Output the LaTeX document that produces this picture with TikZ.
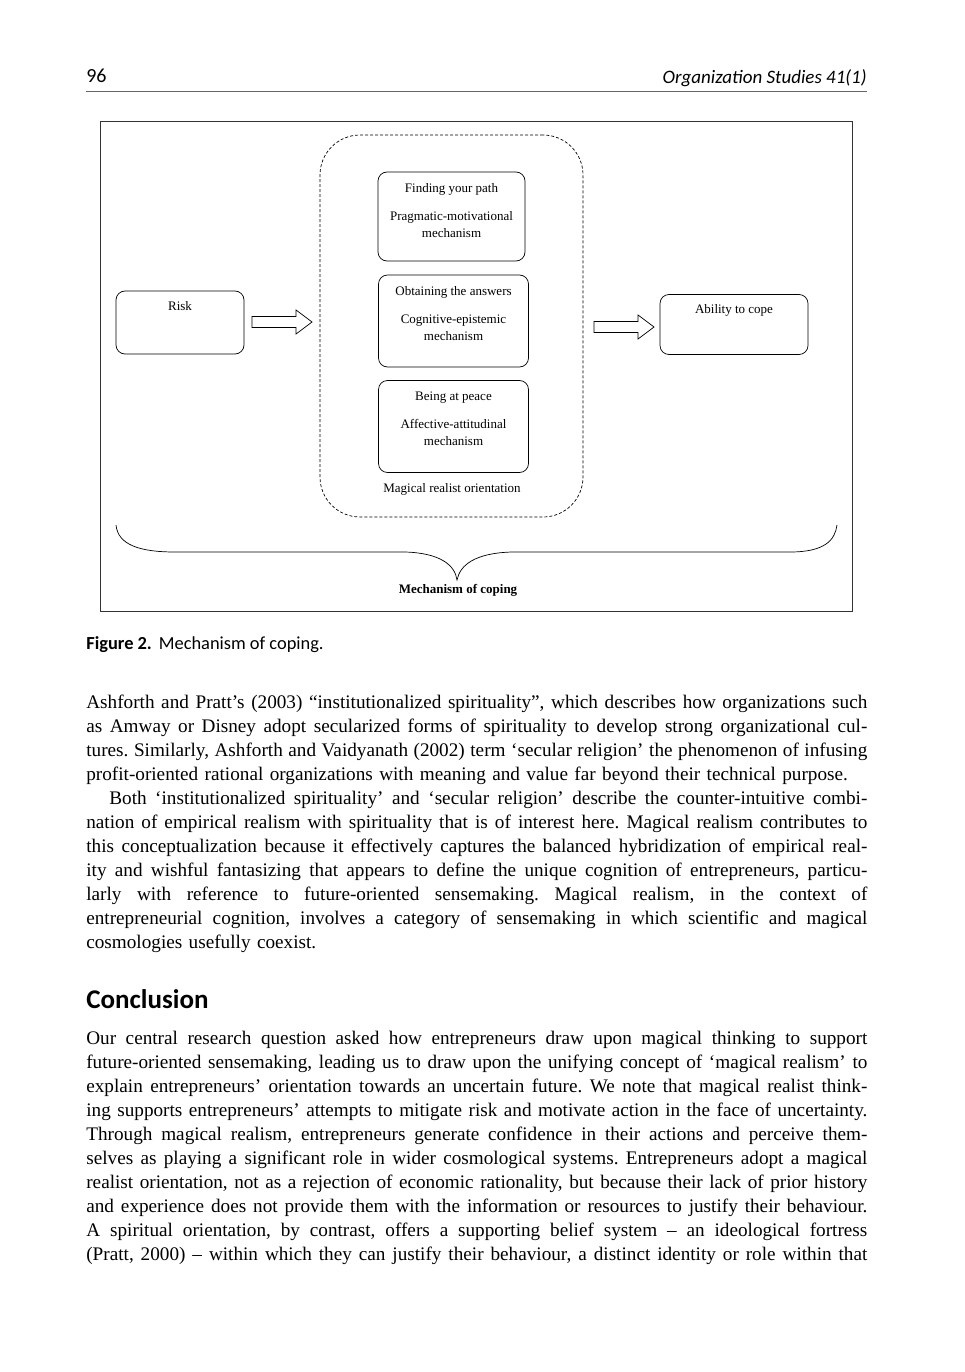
\documentclass[tikz,border=0pt]{standalone}
\usepackage{fontspec}
\setmainfont{Liberation Serif}
\newfontfamily\gill{Carlito}
\usetikzlibrary{positioning}
\frenchspacing

\newcommand\jl[1]{\makebox[781pt][s]{\spaceskip=0pt\xspaceskip=0pt #1}\\}

\begin{document}
\begin{tikzpicture}[x=1pt, y=-1pt, line width=0.7pt,
    mbox/.style={draw, rounded corners=9pt, minimum width=150pt, minimum height=91pt},
    btext/.style={align=center, inner sep=0pt, font=\fontsize{13}{17}\selectfont},
    bodytext/.style={anchor=north west, align=left, inner sep=0pt, text width=781pt,
                     font=\fontsize{19.2}{24}\selectfont}]

  \fill[white] (0, 0) rectangle (964, 1372);
  \useasboundingbox (0, 0) rectangle (964, 1372);

  % running head
  \node[anchor=base west, inner sep=0pt, font=\gill\fontsize{20}{24}\selectfont] (folio) at (86, 83) {96};
  \node[anchor=base east, inner sep=0pt, font=\gill\itshape\fontsize{19}{24}\selectfont] (journal) at (867, 84) {Organization Studies 41(1)};
  \draw[black!60, line width=0.8pt] (86, 91) -- (867, 91);

  % figure
  \draw[black!80, line width=1pt] (100, 122) rectangle (852, 611);
  \node[draw, dash pattern=on 3pt off 2pt, rounded corners=40pt, minimum width=263pt, minimum height=382pt] (orient) at (451.5, 326) {};
  \node[btext] (orienttext) at (452, 489) {Magical realist orientation};

  \node[mbox, minimum width=147pt, minimum height=89pt] (path) at (451.5, 216.5) {};
  \node[btext, below=11pt of path.north] (pathtext) {Finding your path\\[11pt] Pragmatic-motivational\\ mechanism};
  \node[mbox, minimum height=92pt] (answers) at (453.5, 321) {};
  \node[btext, below=11pt of answers.north] (answerstext) {Obtaining the answers\\[11pt] Cognitive-epistemic\\ mechanism};
  \node[mbox, minimum height=92pt] (peace) at (453.5, 426.5) {};
  \node[btext, below=11pt of peace.north] (peacetext) {Being at peace\\[11pt] Affective-attitudinal\\ mechanism};

  \node[mbox, minimum width=128pt, minimum height=63pt] (risk) at (180, 322.5) {};
  \node[btext, below=10pt of risk.north] (risktext) {Risk};
  \node[mbox, minimum width=148pt, minimum height=60pt] (cope) at (734, 324.5) {};
  \node[btext, below=10pt of cope.north] (copetext) {Ability to cope};

  % block arrows
  \foreach \x/\y [count=\n] in {252/322, 594/327} {
    \begin{scope}[shift={(\x, \y)}]
      \draw (0, -5.5) -- (44, -5.5) -- (44, -12) -- (60, 0) -- (44, 12) -- (44, 5.5) -- (0, 5.5) -- cycle;
    \end{scope}
  }

  % brace
  \draw (116, 525) .. controls (118, 545) and (140, 552) .. (175, 552) -- (405, 552)
        .. controls (440, 553) and (455, 565) .. (457, 580)
        .. controls (460, 565) and (475, 553) .. (512, 552) -- (790, 552)
        .. controls (825, 552) and (835, 540) .. (837, 525);
  \node[btext, font=\bfseries\fontsize{13}{17}\selectfont] (coping) at (458, 590) {Mechanism of coping};

  \node[anchor=base west, inner sep=0pt, font=\gill\fontsize{18.4}{20}\selectfont] (caption) at (86, 649)
    {\textbf{Figure 2.}\hspace{7pt}Mechanism of coping.};

  % body text
  \node[bodytext] (para1) at (86, 695) {%
    \jl{Ashforth and Pratt’s (2003) “institutionalized spirituality”, which describes how organizations such}
    \jl{as Amway or Disney adopt secularized forms of spirituality to develop strong organizational cul-}
    \jl{tures. Similarly, Ashforth and Vaidyanath (2002) term ‘secular religion’ the phenomenon of infusing}
    profit-oriented rational organizations with meaning and value far beyond their technical purpose.};

  \node[bodytext] (para2) at (86, 791) {%
    \hspace*{23pt}\makebox[758pt][s]{\spaceskip=0pt\xspaceskip=0pt Both ‘institutionalized spirituality’ and ‘secular religion’ describe the counter-intuitive combi-}\\
    \jl{nation of empirical realism with spirituality that is of interest here. Magical realism contributes to}
    \jl{this conceptualization because it effectively captures the balanced hybridization of empirical real-}
    \jl{ity and wishful fantasizing that appears to define the unique cognition of entrepreneurs, particu-}
    \jl{larly with reference to future-oriented sensemaking. Magical realism, in the context of}
    \jl{entrepreneurial cognition, involves a category of sensemaking in which scientific and magical}
    cosmologies usefully coexist.};

  \node[anchor=base west, inner sep=0pt, font=\gill\bfseries\fontsize{27}{30}\selectfont] (conclusion) at (86, 1008) {Conclusion};

  \node[bodytext] (para3) at (86, 1031) {%
    \jl{Our central research question asked how entrepreneurs draw upon magical thinking to support}
    \jl{future-oriented sensemaking, leading us to draw upon the unifying concept of ‘magical realism’ to}
    \jl{explain entrepreneurs’ orientation towards an uncertain future. We note that magical realist think-}
    \jl{ing supports entrepreneurs’ attempts to mitigate risk and motivate action in the face of uncertainty.}
    \jl{Through magical realism, entrepreneurs generate confidence in their actions and perceive them-}
    \jl{selves as playing a significant role in wider cosmological systems. Entrepreneurs adopt a magical}
    \jl{realist orientation, not as a rejection of economic rationality, but because their lack of prior history}
    \jl{and experience does not provide them with the information or resources to justify their behaviour.}
    \jl{A spiritual orientation, by contrast, offers a supporting belief system – an ideological fortress}
    \makebox[781pt][s]{\spaceskip=0pt\xspaceskip=0pt (Pratt, 2000) – within which they can justify their behaviour, a distinct identity or role within that}};

\end{tikzpicture}
\end{document}
